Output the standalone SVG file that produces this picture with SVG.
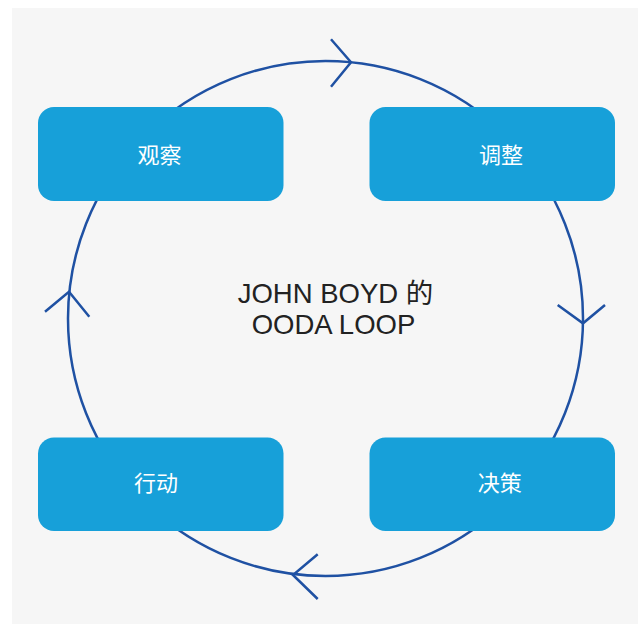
<svg xmlns="http://www.w3.org/2000/svg" width="638" height="624" viewBox="0 0 638 624">
  <style>
    .bg { fill: #F6F6F6; }
    .loop { fill: none; stroke: #1F51A3; stroke-width: 2.5; }
    .head { fill: none; stroke: #1F51A3; stroke-width: 2.5; stroke-linejoin: miter; }
    .box { fill: #17A0D9; }
    .lbl { font-family: "Noto Sans CJK SC", "Liberation Sans", sans-serif; font-size: 22px; fill: #FFFFFF; text-anchor: middle; }
    .title { font-family: "Liberation Sans", "Noto Sans CJK SC", sans-serif; font-size: 27.5px; fill: #222222; text-anchor: middle; }
  </style>
  <rect class="bg" x="12" y="8" width="626" height="616"/>
  <g id="connectors">
    <circle class="loop" cx="325.5" cy="318.5" r="257.5"/>
    <polyline class="head" points="331,39.3 351,62.3 331,86.7"/>
    <polyline class="head" points="557.7,305 583,323.3 605,305"/>
    <polyline class="head" points="317.7,554.3 293,575 317.7,599"/>
    <polyline class="head" points="45,311.7 69,291.7 89.3,316.7"/>
  </g>
  <g id="center-title">
    <text class="title" x="335.5" y="303.3">JOHN BOYD 的</text>
    <text class="title" x="333.5" y="334">OODA LOOP</text>
  </g>
  <g id="observe">
    <rect class="box" x="38" y="107" width="245.5" height="94" rx="16" ry="16"/>
    <text class="lbl" x="159.5" y="162.5">观察</text>
  </g>
  <g id="orient">
    <rect class="box" x="369.5" y="107" width="245.5" height="94" rx="16" ry="16"/>
    <text class="lbl" x="501" y="162.5">调整</text>
  </g>
  <g id="decide">
    <rect class="box" x="369.5" y="437.5" width="245.5" height="93.5" rx="16" ry="16"/>
    <text class="lbl" x="499.7" y="491">决策</text>
  </g>
  <g id="act">
    <rect class="box" x="38" y="437.5" width="245.5" height="93.5" rx="16" ry="16"/>
    <text class="lbl" x="156" y="491">行动</text>
  </g>
</svg>
